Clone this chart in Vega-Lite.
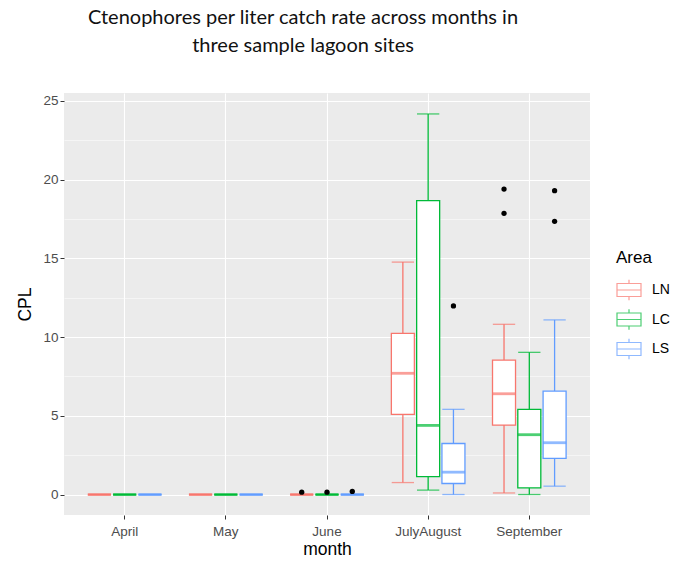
{
  "$schema": "https://vega.github.io/schema/vega-lite/v6.json",
  "width": 526,
  "height": 422,
  "autosize": {"type": "none"},
  "padding": {"left": 64, "top": 93, "right": 84, "bottom": 47},
  "background": "white",
  "title": {
    "text": ["Ctenophores per liter catch rate across months in", "three sample lagoon sites"],
    "anchor": "middle",
    "frame": "group",
    "dx": -24,
    "offset": 37,
    "font": "Lato",
    "fontSize": 20,
    "fontWeight": 400,
    "color": "#111111",
    "lineHeight": 28
  },
  "config": {
    "view": {"fill": "#EBEBEB", "stroke": null},
    "axis": {
      "domain": false,
      "gridColor": "white",
      "tickColor": "#333333",
      "tickSize": 4,
      "labelFont": "Liberation Sans",
      "labelFontSize": 13.5,
      "labelColor": "#4D4D4D",
      "titleFont": "Liberation Sans",
      "titleFontSize": 17.5,
      "titleFontWeight": "normal",
      "titleColor": "black"
    }
  },
  "datasets": {
    "boxes": [
      {"month": "April", "Area": "LN", "lo": 0, "q1": 0, "med": 0, "q3": 0, "hi": 0},
      {"month": "April", "Area": "LC", "lo": 0, "q1": 0, "med": 0, "q3": 0, "hi": 0},
      {"month": "April", "Area": "LS", "lo": 0, "q1": 0, "med": 0, "q3": 0, "hi": 0},
      {"month": "May", "Area": "LN", "lo": 0, "q1": 0, "med": 0, "q3": 0, "hi": 0},
      {"month": "May", "Area": "LC", "lo": 0, "q1": 0, "med": 0, "q3": 0, "hi": 0},
      {"month": "May", "Area": "LS", "lo": 0, "q1": 0, "med": 0, "q3": 0, "hi": 0},
      {"month": "June", "Area": "LN", "lo": 0, "q1": 0, "med": 0, "q3": 0, "hi": 0},
      {"month": "June", "Area": "LC", "lo": 0, "q1": 0, "med": 0, "q3": 0, "hi": 0},
      {"month": "June", "Area": "LS", "lo": 0, "q1": 0, "med": 0, "q3": 0, "hi": 0},
      {"month": "JulyAugust", "Area": "LN", "lo": 0.76, "q1": 5.09, "med": 7.7, "q3": 10.24, "hi": 14.76},
      {"month": "JulyAugust", "Area": "LC", "lo": 0.28, "q1": 1.14, "med": 4.39, "q3": 18.66, "hi": 24.17},
      {"month": "JulyAugust", "Area": "LS", "lo": 0.0, "q1": 0.7, "med": 1.42, "q3": 3.24, "hi": 5.41},
      {"month": "September", "Area": "LN", "lo": 0.1, "q1": 4.41, "med": 6.4, "q3": 8.54, "hi": 10.81},
      {"month": "September", "Area": "LC", "lo": 0.0, "q1": 0.42, "med": 3.8, "q3": 5.41, "hi": 9.03},
      {"month": "September", "Area": "LS", "lo": 0.53, "q1": 2.29, "med": 3.29, "q3": 6.57, "hi": 11.09}
    ],
    "outliers": [
      {"month": "June", "Area": "LN", "CPL": 0.15},
      {"month": "June", "Area": "LC", "CPL": 0.15},
      {"month": "June", "Area": "LS", "CPL": 0.2},
      {"month": "JulyAugust", "Area": "LS", "CPL": 11.98},
      {"month": "September", "Area": "LN", "CPL": 19.4},
      {"month": "September", "Area": "LN", "CPL": 17.86},
      {"month": "September", "Area": "LS", "CPL": 19.3},
      {"month": "September", "Area": "LS", "CPL": 17.35}
    ]
  },
  "data": {"name": "boxes"},
  "encoding": {
    "x": {
      "field": "month",
      "type": "nominal",
      "sort": ["April", "May", "June", "JulyAugust", "September"],
      "scale": {"paddingInner": 0, "paddingOuter": 0.1},
      "axis": {"labelAngle": 0, "labelPadding": 5, "titlePadding": 3, "grid": true, "gridWidth": 1.1, "title": "month"}
    },
    "xOffset": {
      "field": "Area",
      "type": "nominal",
      "sort": ["LN", "LC", "LS"],
      "scale": {"paddingInner": 0.09, "paddingOuter": 0.545}
    },
    "stroke": {
      "field": "Area",
      "type": "nominal",
      "sort": ["LN", "LC", "LS"],
      "scale": {"domain": ["LN", "LC", "LS"], "range": ["#F8766D", "#00BA38", "#619CFF"]},
      "legend": {
        "orient": "none",
        "legendX": 552,
        "legendY": 157,
        "title": "Area",
        "titleFont": "Liberation Sans",
        "titleFontSize": 17,
        "titleFontWeight": "normal",
        "titleColor": "black",
        "titlePadding": 10,
        "labelFont": "Liberation Sans",
        "labelFontSize": 14,
        "labelColor": "black",
        "labelOffset": 10,
        "symbolType": "M-1,-0.54H1V0.54H-1Z M-1,0H1 M0,-0.54V-0.85 M0,0.54V0.85",
        "symbolSize": 576,
        "symbolStrokeWidth": 1.2,
        "symbolFillColor": "white",
        "rowPadding": 3.5
      }
    }
  },
  "layer": [
    {
      "mark": {"type": "rule", "strokeWidth": 1.3},
      "encoding": {
        "y": {
          "field": "lo",
          "type": "quantitative",
          "scale": {"domain": [-1.3, 25.5], "nice": false, "zero": false},
          "axis": {
            "title": "CPL",
            "values": [0, 2.5, 5, 7.5, 10, 12.5, 15, 17.5, 20, 22.5, 25],
            "format": "d",
            "labelExpr": "datum.value % 5 === 0 ? datum.label : ''",
            "tickOpacity": {"condition": {"test": "datum.value % 5 !== 0", "value": 0}, "value": 1},
            "gridWidth": {"condition": {"test": "datum.value % 5 !== 0", "value": 0.5}, "value": 1.1},
            "labelPadding": 2,
            "titlePadding": 8
          }
        },
        "y2": {"field": "hi"}
      }
    },
    {
      "mark": {"type": "tick", "size": 21, "thickness": 0.01, "filled": false, "strokeWidth": 1.3},
      "encoding": {"y": {"field": "lo", "type": "quantitative"}}
    },
    {
      "mark": {"type": "tick", "size": 21, "thickness": 0.01, "filled": false, "strokeWidth": 1.3},
      "encoding": {"y": {"field": "hi", "type": "quantitative"}}
    },
    {
      "mark": {"type": "bar", "strokeWidth": 1.3},
      "encoding": {
        "y": {"field": "q1", "type": "quantitative"},
        "y2": {"field": "q3"},
        "fill": {"value": "white"}
      }
    },
    {
      "mark": {"type": "tick", "size": 20.5, "thickness": 0.01, "filled": false, "strokeWidth": 2.8},
      "encoding": {"y": {"field": "med", "type": "quantitative"}}
    },
    {
      "data": {"name": "outliers"},
      "mark": {"type": "circle", "size": 28, "opacity": 1, "strokeWidth": 0},
      "encoding": {
        "y": {"field": "CPL", "type": "quantitative"},
        "fill": {"value": "black"},
        "stroke": {"value": "black"}
      }
    }
  ]
}
